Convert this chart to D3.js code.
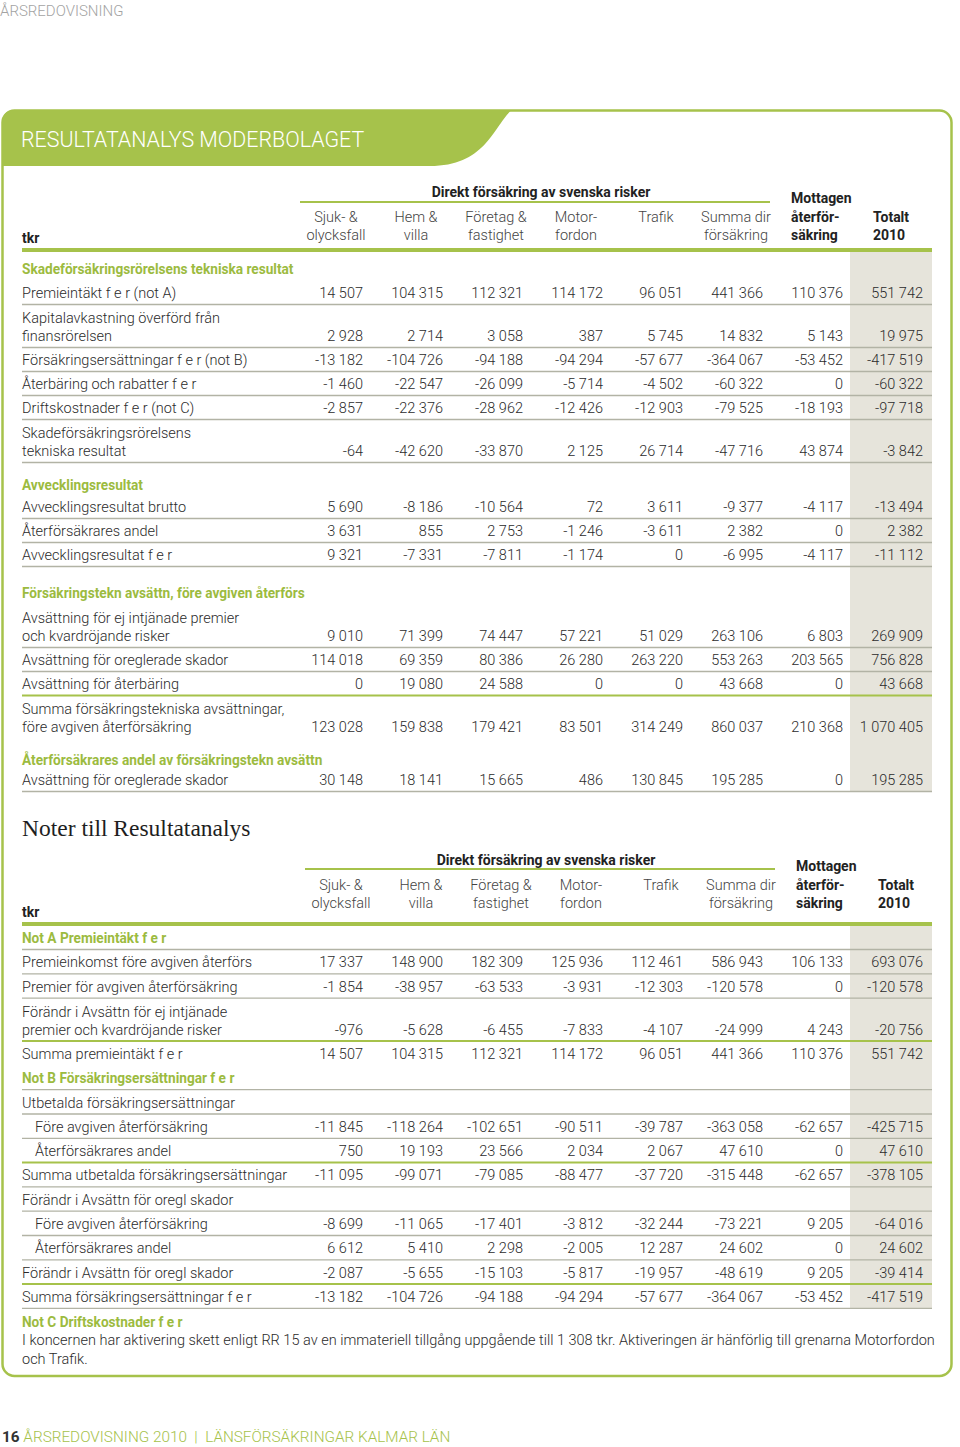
<!DOCTYPE html>
<html><head><meta charset="utf-8">
<script src="https://cdn.jsdelivr.net/npm/d3@7"></script>
<style>
html,body{margin:0;padding:0;background:#fff;}
svg{display:block;}
</style></head><body>
<svg id="chart" width="960" height="1447" font-family="Roboto, 'Noto Sans', sans-serif"></svg>
<script>
// ---------------- DATA ----------------
const pageHeader = "ÅRSREDOVISNING";
const title = "RESULTATANALYS MODERBOLAGET";
const notesTitle = "Noter till Resultatanalys";
const groupHeader = "Direkt försäkring av svenska risker";
const unitLabel = "tkr";
const columnKeys = ["sjuk","hem","foretag","motor","trafik","summa","mottagen","totalt"];
const columnHeads = [["Sjuk- &","olycksfall"],["Hem &","villa"],["Företag &","fastighet"],["Motor-","fordon"],["Trafik"],["Summa dir","försäkring"],["Mottagen","återför-","säkring"],["Totalt","2010"]];

// Table 1: Resultatanalys moderbolaget
const t1Labels = [
  ["Skadeförsäkringsrörelsens tekniska resultat"],
  ["Premieintäkt f e r (not A)"],
  ["Kapitalavkastning överförd från","finansrörelsen"],
  ["Försäkringsersättningar f e r (not B)"],
  ["Återbäring och rabatter f e r"],
  ["Driftskostnader f e r (not C)"],
  ["Skadeförsäkringsrörelsens","tekniska resultat"],
  ["Avvecklingsresultat"],
  ["Avvecklingsresultat brutto"],
  ["Återförsäkrares andel"],
  ["Avvecklingsresultat f e r"],
  ["Försäkringstekn avsättn, före avgiven återförs"],
  ["Avsättning för ej intjänade premier","och kvardröjande risker"],
  ["Avsättning för oreglerade skador"],
  ["Avsättning för återbäring"],
  ["Summa försäkringstekniska avsättningar,","före avgiven återförsäkring"],
  ["Återförsäkrares andel av försäkringstekn avsättn"],
  ["Avsättning för oreglerade skador"]
];
const t1Values = [
  null,
  [14507, 104315, 112321, 114172, 96051, 441366, 110376, 551742],
  [2928, 2714, 3058, 387, 5745, 14832, 5143, 19975],
  [-13182, -104726, -94188, -94294, -57677, -364067, -53452, -417519],
  [-1460, -22547, -26099, -5714, -4502, -60322, 0, -60322],
  [-2857, -22376, -28962, -12426, -12903, -79525, -18193, -97718],
  [-64, -42620, -33870, 2125, 26714, -47716, 43874, -3842],
  null,
  [5690, -8186, -10564, 72, 3611, -9377, -4117, -13494],
  [3631, 855, 2753, -1246, -3611, 2382, 0, 2382],
  [9321, -7331, -7811, -1174, 0, -6995, -4117, -11112],
  null,
  [9010, 71399, 74447, 57221, 51029, 263106, 6803, 269909],
  [114018, 69359, 80386, 26280, 263220, 553263, 203565, 756828],
  [0, 19080, 24588, 0, 0, 43668, 0, 43668],
  [123028, 159838, 179421, 83501, 314249, 860037, 210368, 1070405],
  null,
  [30148, 18141, 15665, 486, 130845, 195285, 0, 195285]
];

// Table 2: Noter till Resultatanalys
const t2Labels = [
  ["Not A Premieintäkt f e r"],
  ["Premieinkomst före avgiven återförs"],
  ["Premier för avgiven återförsäkring"],
  ["Förändr i Avsättn för ej intjänade","premier och kvardröjande risker"],
  ["Summa premieintäkt f e r"],
  ["Not B Försäkringsersättningar f e r"],
  ["Utbetalda försäkringsersättningar"],
  ["Före avgiven återförsäkring"],
  ["Återförsäkrares andel"],
  ["Summa utbetalda försäkringsersättningar"],
  ["Förändr i Avsättn för oregl skador"],
  ["Före avgiven återförsäkring"],
  ["Återförsäkrares andel"],
  ["Förändr i Avsättn för oregl skador"],
  ["Summa försäkringsersättningar f e r"],
  ["Not C Driftskostnader f e r"]
];
const t2Values = [
  null,
  [17337, 148900, 182309, 125936, 112461, 586943, 106133, 693076],
  [-1854, -38957, -63533, -3931, -12303, -120578, 0, -120578],
  [-976, -5628, -6455, -7833, -4107, -24999, 4243, -20756],
  [14507, 104315, 112321, 114172, 96051, 441366, 110376, 551742],
  null,
  null,
  [-11845, -118264, -102651, -90511, -39787, -363058, -62657, -425715],
  [750, 19193, 23566, 2034, 2067, 47610, 0, 47610],
  [-11095, -99071, -79085, -88477, -37720, -315448, -62657, -378105],
  null,
  [-8699, -11065, -17401, -3812, -32244, -73221, 9205, -64016],
  [6612, 5410, 2298, -2005, 12287, 24602, 0, 24602],
  [-2087, -5655, -15103, -5817, -19957, -48619, 9205, -39414],
  [-13182, -104726, -94188, -94294, -57677, -364067, -53452, -417519],
  null
];
const noteText = [
  "I koncernen har aktivering skett enligt RR 15 av en immateriell tillgång uppgående till 1 308 tkr. Aktiveringen är hänförlig till grenarna Motorfordon",
  "och Trafik."
];
const footerNumber = "16";
const footerText = "ÅRSREDOVISNING 2010  |  LÄNSFÖRSÄKRINGAR KALMAR LÄN";

// ---------------- LAYOUT / STYLE ----------------
// row kinds: h = green heading, r = row, i = indented row
const t1Kinds = ["h","r","r","r","r","r","r","h","r","r","r","h","r","r","r","r","h","r"];
const t1Advance = [24,24,43,24,24,24,43,34,22,24,24,38,43,24,24,43,33,20];
const t1Rules = ["","g","g","g","g","g","g","","g","g","g","","g","g","G","","","g"];
const t2Kinds = ["h","r","r","r","r","h","r","i","i","r","r","i","i","r","r","h"];
const t2Advance = [19,24.3,24.3,43,24.3,24.3,24.3,24.3,24.3,24.3,24.3,24.3,24.3,24.3,24.3,24.8];
const t2Rules = ["g","g","g","G","","g","g","g","G","g","g","g","g","G","g",""];

const GREEN = "#a6c24b";
const HEAD_GREEN = "#9cbb3f";
const RULE_GREY = "#b2b3a5";
const SHADE = "#e6e4db";
const TEXT = "#2b2b2b";
const BODY_FS = 14.5;

const svg = d3.select("#chart");
const fmt = d3.formatLocale({decimal:",", thousands:" ", grouping:[3], currency:["",""], minus:"-"}).format(",d");

const x = d3.scaleBand().domain(columnKeys).range([283, 923]);
const colRight = k => x(k) + x.bandwidth();
const leftX = 22, rightX = 932;

// page header
svg.append("text").attr("x", 0).attr("y", 16).attr("font-size", 15).attr("font-weight", 300)
  .attr("fill", "#a3a3a3").text(pageHeader);

// box
svg.append("rect").attr("x", 2.5).attr("y", 110.5).attr("width", 949).attr("height", 1265.5)
  .attr("rx", 12).attr("fill", "none").attr("stroke", GREEN).attr("stroke-width", 2.5);
// banner
svg.append("path")
  .attr("d", "M2.5,166 V122 Q2.5,110.5 14,110.5 H511 C493,128 485,166 430,166 Z")
  .attr("fill", GREEN);
svg.append("text").attr("x", 21).attr("y", 147).attr("font-size", 21.4).attr("font-weight", 300)
  .attr("fill", "#fff").text(title);

// notes title
svg.append("text").attr("x", 22).attr("y", 836).attr("font-size", 23.5)
  .style("font-family", "'Liberation Serif','Times New Roman',serif").attr("fill", "#1e1e1e").text(notesTitle);

function drawHeader(L, shift, direktDy, glineDy, colDy) {
  const g = svg.append("g");
  g.append("text").attr("x", colRight("motor") - 62 + shift).attr("y", L + direktDy)
    .attr("text-anchor", "middle").attr("font-size", 14).attr("font-weight", 700).attr("fill", "#222")
    .text(groupHeader);
  g.append("line").attr("x1", colRight("sjuk") - 63 + shift).attr("x2", colRight("summa") + 7 + shift)
    .attr("y1", L + glineDy).attr("y2", L + glineDy).attr("stroke", GREEN).attr("stroke-width", 2);
  columnKeys.forEach((k, i) => {
    const lines = columnHeads[i];
    if (i < 6) {
      lines.forEach((t, j) => {
        g.append("text").attr("x", colRight(k) - 27 + shift).attr("y", L + colDy - 18.5 + j * 18.5)
          .attr("text-anchor", "middle").attr("font-size", BODY_FS).attr("font-weight", 300)
          .attr("fill", "#444").text(t);
      });
    } else {
      const n = lines.length;
      const xx = (k === "mottagen" ? colRight(k) - 52 : colRight(k) - 50) + shift;
      lines.forEach((t, j) => {
        g.append("text").attr("x", xx).attr("y", L + colDy - (n - 1 - j) * 18.5)
          .attr("font-size", 14).attr("font-weight", 700).attr("fill", "#222").text(t);
      });
    }
  });
  g.append("text").attr("x", leftX).attr("y", L - 7).attr("font-size", 14).attr("font-weight", 700)
    .attr("fill", "#222").text(unitLabel);
  g.append("line").attr("x1", leftX).attr("x2", rightX).attr("y1", L).attr("y2", L)
    .attr("stroke", GREEN).attr("stroke-width", 4);
}

function drawBody(L, labels, values, kinds, advance, rules, shadeEnd) {
  const base = d3.cumsum(advance).map(a => L + a);
  const g = svg.append("g");
  g.append("rect").attr("x", colRight("totalt") - 73).attr("y", L + 2)
    .attr("width", rightX - (colRight("totalt") - 73)).attr("height", shadeEnd - L - 2).attr("fill", SHADE);
  rules.forEach((r, i) => {
    if (!r) return;
    const y = base[i] + 6.5;
    g.append("line").attr("x1", leftX).attr("x2", rightX).attr("y1", y).attr("y2", y)
      .attr("stroke", r === "G" ? GREEN : RULE_GREY).attr("stroke-width", r === "G" ? 2 : 1.3);
  });
  labels.forEach((lines, i) => {
    const kind = kinds[i];
    const n = lines.length;
    lines.forEach((t, j) => {
      const ty = base[i] - (n - 1 - j) * 18;
      if (kind === "h") {
        g.append("text").attr("transform", `translate(${leftX},${ty}) scale(0.91,1)`)
          .attr("font-size", 15).attr("font-weight", 700).attr("fill", HEAD_GREEN).text(t);
      } else {
        g.append("text").attr("x", kind === "i" ? 35 : leftX).attr("y", ty)
          .attr("font-size", BODY_FS).attr("font-weight", 300).attr("fill", TEXT).text(t);
      }
    });
    const vals = values[i];
    if (vals) {
      g.selectAll(null).data(vals).join("text")
        .attr("x", (d, k) => colRight(columnKeys[k])).attr("y", base[i])
        .attr("text-anchor", "end").attr("font-size", BODY_FS).attr("font-weight", 300)
        .attr("fill", TEXT).text(d => fmt(d));
    }
  });
  return base;
}

// Table 1
const L1 = 250;
drawHeader(L1, 0, -53, -48, -10);
drawBody(L1, t1Labels, t1Values, t1Kinds, t1Advance, t1Rules, L1 + d3.sum(t1Advance) + 6.5);

// Table 2
const L2 = 924;
drawHeader(L2, 5, -59, -55, -16);
const b2 = drawBody(L2, t2Labels, t2Values, t2Kinds, t2Advance, t2Rules, L2 + d3.sum(t2Advance.slice(0, -1)) + 6.5);

// note text
const nb = b2[b2.length - 1];
noteText.forEach((t, i) => {
  const tx = svg.append("text").attr("x", leftX).attr("y", nb + 18.5 + i * 18.5)
    .attr("font-size", BODY_FS).attr("font-weight", 300).attr("fill", TEXT).text(t);
  if (i === 0) {
    const w = tx.node().getComputedTextLength();
    if (w > 918) tx.attr("textLength", 918).attr("lengthAdjust", "spacingAndGlyphs");
  }
});

// footer
const ft = svg.append("text").attr("x", 2).attr("y", 1442).attr("font-size", 15.3);
ft.append("tspan").attr("font-weight", 700).attr("fill", "#333").text(footerNumber + " ");
ft.append("tspan").attr("font-weight", 300).attr("fill", GREEN).attr("xml:space", "preserve").text(footerText);
</script>
</body></html>
